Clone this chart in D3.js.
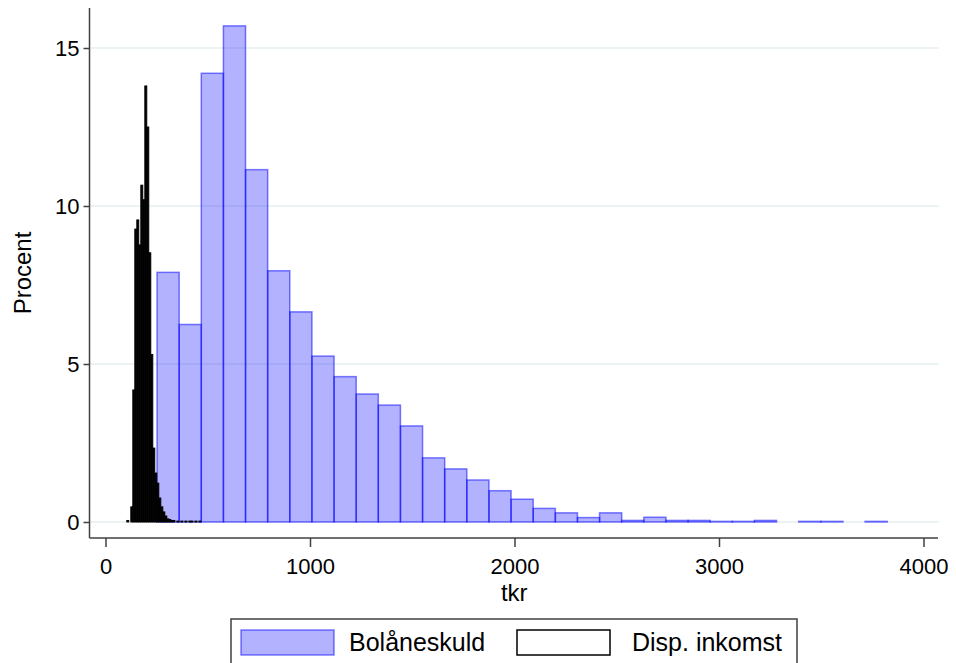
<!DOCTYPE html>
<html>
<head>
<meta charset="utf-8">
<script src="https://cdn.jsdelivr.net/npm/d3@7"></script>
<style>
  body { margin: 0; background: #fff; }
  svg { font-family: Arial, "Liberation Sans", sans-serif; }
  .tick text { font-size: 22px; fill: #000; }
  .tick line { stroke: #404040; stroke-width: 1.5; }
</style>
</head>
<body>
<div id="chart"></div>
<script>
// Bolåneskuld: 33 bins, tkr
const debtStart = 252;
const debtWidth = 108.2;
const debtPct = [7.9, 6.25, 14.2, 15.7, 11.15, 7.95, 6.65, 5.25, 4.6, 4.05, 3.7, 3.04,
    2.03, 1.68, 1.33, 0.99, 0.72, 0.43, 0.29, 0.14, 0.29, 0.05, 0.15, 0.05,
    0.05, 0.02, 0.02, 0.05, 0, 0.02, 0.02, 0, 0.02];

// Disp. inkomst: narrow bins, tkr
const incomeStart = 104;
const incomeWidth = 9.8;
const incomePct = [0.05, 0, 0.48, 4.18, 9.27, 9.56, 8.77, 10.66, 10.2, 13.8, 12.5, 8.52,
    5.3, 2.34, 1.55, 1.23, 0.76, 0.48, 0.32, 0.19, 0.1, 0.08, 0.05, 0.05,
    0, 0.03, 0, 0.03, 0, 0.03, 0, 0.03, 0.03, 0, 0.03, 0, 0.03];

const xTicks = [0, 1000, 2000, 3000, 4000];
const yTicks = [0, 5, 10, 15];
const seriesNames = ['Bolåneskuld', 'Disp. inkomst'];

const W = 956, H = 663;
const plot = { left: 89.5, right: 939, top: 8, bottom: 538 };

const svg = d3.select('#chart').append('svg').attr('width', W).attr('height', H);

const x = d3.scaleLinear().domain([0, 4000]).range([105.5, 923.5]);
const y = d3.scaleLinear().domain([0, 15]).range([522, 48]);

// gridlines
svg.append('g').selectAll('line').data(yTicks).enter().append('line')
    .attr('x1', plot.left).attr('x2', plot.right)
    .attr('y1', d => y(d)).attr('y2', d => y(d))
    .attr('stroke', '#e6eff1').attr('stroke-width', 1.5);

function bins(start, width, vals) {
    return vals.map((v, i) => ({ x0: start + i * width, x1: start + (i + 1) * width, v: v }))
        .filter(d => d.v > 0);
}

// blue histogram
svg.append('g').selectAll('rect').data(bins(debtStart, debtWidth, debtPct)).enter().append('rect')
    .attr('x', d => x(d.x0))
    .attr('width', d => x(d.x1) - x(d.x0))
    .attr('y', d => y(d.v))
    .attr('height', d => y(0) - y(d.v))
    .attr('fill', 'rgba(0,0,255,0.3)')
    .attr('stroke', 'rgba(0,0,255,0.5)')
    .attr('stroke-width', 1.5);

// black histogram
svg.append('g').selectAll('rect').data(bins(incomeStart, incomeWidth, incomePct)).enter().append('rect')
    .attr('x', d => x(d.x0))
    .attr('width', d => x(d.x1) - x(d.x0))
    .attr('y', d => y(d.v))
    .attr('height', d => Math.max(1, y(0) - y(d.v)))
    .attr('fill', '#000')
    .attr('stroke', '#000')
    .attr('stroke-width', 0.9);

// axes
const xAxis = d3.axisBottom(x).tickValues(xTicks).tickFormat(d3.format('d'))
    .tickSize(9).tickPadding(11).tickSizeOuter(0);
svg.append('g').attr('transform', 'translate(0,' + plot.bottom + ')').call(xAxis)
    .call(g => g.select('.domain').remove());

const yAxis = d3.axisLeft(y).tickValues(yTicks).tickSize(6).tickPadding(4).tickSizeOuter(0);
svg.append('g').attr('transform', 'translate(' + plot.left + ',0)').call(yAxis)
    .call(g => g.select('.domain').remove());

svg.append('line').attr('x1', plot.left).attr('x2', plot.left)
    .attr('y1', plot.top).attr('y2', plot.bottom)
    .attr('stroke', '#404040').attr('stroke-width', 1.5);
svg.append('line').attr('x1', plot.left).attr('x2', plot.right - 1)
    .attr('y1', plot.bottom).attr('y2', plot.bottom)
    .attr('stroke', '#404040').attr('stroke-width', 1.5);

svg.append('text').text('tkr').attr('x', (plot.left + plot.right) / 2).attr('y', 601)
    .attr('text-anchor', 'middle').style('font-size', '24px');
svg.append('text').text('Procent')
    .attr('transform', 'translate(31,' + ((plot.top + plot.bottom) / 2) + ') rotate(-90)')
    .attr('text-anchor', 'middle').style('font-size', '24px');

// legend
const legend = svg.append('g');
legend.append('rect').attr('x', 231).attr('y', 619).attr('width', 566).attr('height', 60)
    .attr('fill', '#fff').attr('stroke', '#404040').attr('stroke-width', 1.5);

const keys = legend.selectAll('.key').data(seriesNames).enter().append('g')
    .attr('class', 'key')
    .attr('transform', (d, i) => 'translate(' + (241 + i * 276) + ',630)');

keys.append('rect').attr('width', 93).attr('height', 25)
    .attr('fill', (d, i) => i === 0 ? 'rgba(0,0,255,0.3)' : '#fff')
    .attr('stroke', (d, i) => i === 0 ? 'rgba(0,0,255,0.5)' : '#000')
    .attr('stroke-width', 1.5);

keys.append('text').text(d => d).attr('x', (d, i) => i === 0 ? 108 : 115).attr('y', 21)
    .style('font-size', '25px');
</script>
</body>
</html>
